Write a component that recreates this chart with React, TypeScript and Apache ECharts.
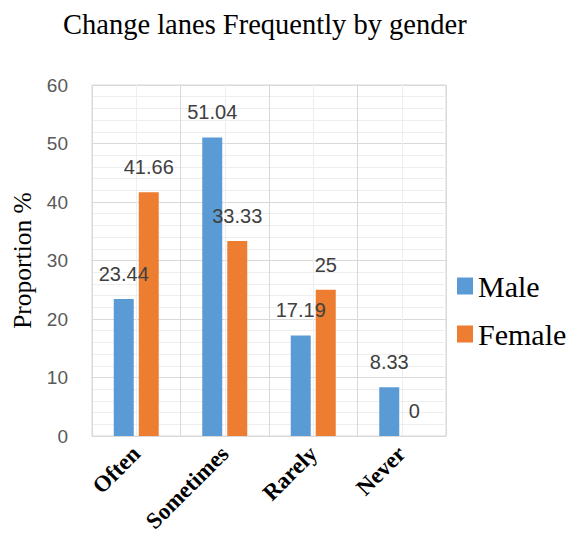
import React, { useEffect, useRef } from "react";
import * as echarts from "echarts";

const categories = ["Often", "Sometimes", "Rarely", "Never"];
const maleValues = [23.44, 51.04, 17.19, 8.33];
const femaleValues = [41.66, 33.33, 25, 0];
const seriesNames = ["Male", "Female"];

export default function App() {
  const ref = useRef<HTMLDivElement>(null);
  useEffect(() => {
    document.body.style.margin = "0";
    if (!ref.current) return;
    const chart = echarts.init(ref.current, null, { renderer: "svg" });
    const serif = "'Liberation Serif', 'Times New Roman', serif";
    const sans = "'Liberation Sans', Arial, sans-serif";
    const labelCfg = {
      show: true,
      position: "top" as const,
      distance: 15,
      fontFamily: sans,
      fontSize: 20,
      color: "#404040",
    };
    chart.setOption({
      animation: false,
      backgroundColor: "#ffffff",
      title: {
        text: "Change lanes Frequently by gender",
        left: 58,
        top: 5,
        textStyle: { fontFamily: serif, fontSize: 28.5, fontWeight: "normal", color: "#000" },
      },
      legend: {
        orient: "vertical",
        left: 457,
        top: 271,
        padding: 0,
        itemWidth: 16,
        itemHeight: 17,
        itemGap: 18,
        icon: "rect",
        textStyle: { fontFamily: serif, fontSize: 30, color: "#000" },
        data: seriesNames,
      },
      grid: {
        left: 92,
        right: 124,
        top: 85,
        bottom: 104,
        show: true,
        borderColor: "#d9d9d9",
        borderWidth: 1,
      },
      xAxis: [
        {
          type: "category",
          data: categories,
          axisLine: { show: true, lineStyle: { color: "#d9d9d9" } },
          axisTick: { show: false },
          splitLine: { show: false },
          axisLabel: {
            rotate: 45,
            margin: 14,
            fontFamily: serif,
            fontSize: 23,
            fontWeight: "bold",
            color: "#000",
          },
        },
        {
          type: "value",
          min: 0,
          max: 4,
          interval: 1,
          position: "bottom",
          axisLine: { show: false },
          axisTick: { show: false },
          axisLabel: { show: false },
          splitLine: { show: true, lineStyle: { color: "#d9d9d9", width: 1 } },
          minorTick: { show: false, splitNumber: 2 },
          minorSplitLine: { show: true, lineStyle: { color: "#eeeeee", width: 1 } },
        },
      ],
      yAxis: {
        type: "value",
        min: 0,
        max: 60,
        interval: 10,
        name: "Proportion %",
        nameLocation: "middle",
        nameGap: 55,
        nameTextStyle: { fontFamily: serif, fontSize: 25.5, color: "#000" },
        axisLine: { show: false },
        axisTick: { show: false },
        axisLabel: { margin: 24, fontFamily: sans, fontSize: 19, color: "#595959" },
        splitLine: { show: true, lineStyle: { color: "#d9d9d9", width: 1 } },
        minorTick: { show: false, splitNumber: 5 },
        minorSplitLine: { show: true, lineStyle: { color: "#eeeeee", width: 1 } },
      },
      series: [
        {
          name: seriesNames[0],
          type: "bar",
          xAxisIndex: 0,
          data: maleValues,
          barWidth: 20,
          barGap: "25%",
          itemStyle: { color: "#5B9BD5" },
          label: labelCfg,
        },
        {
          name: seriesNames[1],
          type: "bar",
          xAxisIndex: 0,
          data: femaleValues,
          barWidth: 20,
          barGap: "25%",
          itemStyle: { color: "#ED7D31" },
          label: labelCfg,
        },
      ],
    });
    return () => chart.dispose();
  }, []);
  return <div ref={ref} style={{ width: 570, height: 540 }} />;
}
